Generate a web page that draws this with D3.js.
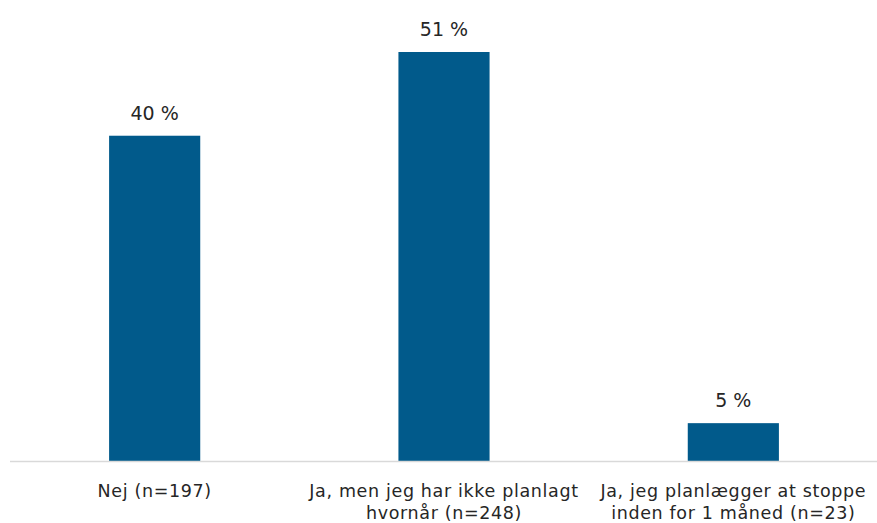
<!DOCTYPE html>
<html>
<head>
<meta charset="utf-8">
<script src="https://cdn.jsdelivr.net/npm/d3@7"></script>
<style>
html,body{margin:0;padding:0;background:#fff;}
svg{display:block;font-family:"DejaVu Sans",sans-serif;}
</style>
</head>
<body>
<svg id="chart" width="877" height="523"></svg>
<script>
const categories = [
  ["Nej (n=197)"],
  ["Ja, men jeg har ikke planlagt", "hvornår (n=248)"],
  ["Ja, jeg planlægger at stoppe", "inden for 1 måned (n=23)"]
];
const values = [40.4, 50.8, 4.7];
const valueLabels = ["40 %", "51 %", "5 %"];

const svg = d3.select("#chart");
const baseY = 461;

const x = d3.scaleBand().domain(d3.range(values.length)).range([10, 878]).padding(0);
const y = d3.scaleLinear().domain([0, 50.8]).range([baseY, 52]);
const barW = x.bandwidth() * 0.315;

svg.selectAll("rect.bar").data(values).join("rect")
  .attr("class", "bar")
  .attr("x", (d, i) => x(i) + x.bandwidth() / 2 - barW / 2)
  .attr("y", d => y(d))
  .attr("width", barW)
  .attr("height", d => baseY - y(d))
  .attr("fill", "#015a8b");

svg.append("line")
  .attr("x1", 10).attr("x2", 877)
  .attr("y1", baseY + 0.5).attr("y2", baseY + 0.5)
  .attr("stroke", "#d9d9d9").attr("stroke-width", 1.5);

svg.selectAll("text.val").data(values).join("text")
  .attr("class", "val")
  .attr("x", (d, i) => x(i) + x.bandwidth() / 2)
  .attr("y", d => y(d) - 16)
  .attr("text-anchor", "middle")
  .attr("font-size", 19)
  .attr("fill", "#262626")
  .text((d, i) => valueLabels[i]);

const lab = svg.selectAll("text.cat").data(categories).join("text")
  .attr("class", "cat")
  .attr("text-anchor", "middle")
  .attr("font-size", 17.5)
  .attr("letter-spacing", 0.65)
  .attr("fill", "#262626");
lab.each(function(lines, i) {
  d3.select(this).selectAll("tspan").data(lines).join("tspan")
    .attr("x", x(i) + x.bandwidth() / 2)
    .attr("y", (l, j) => 497 + j * 22)
    .text(l => l);
});
</script>
</body>
</html>
